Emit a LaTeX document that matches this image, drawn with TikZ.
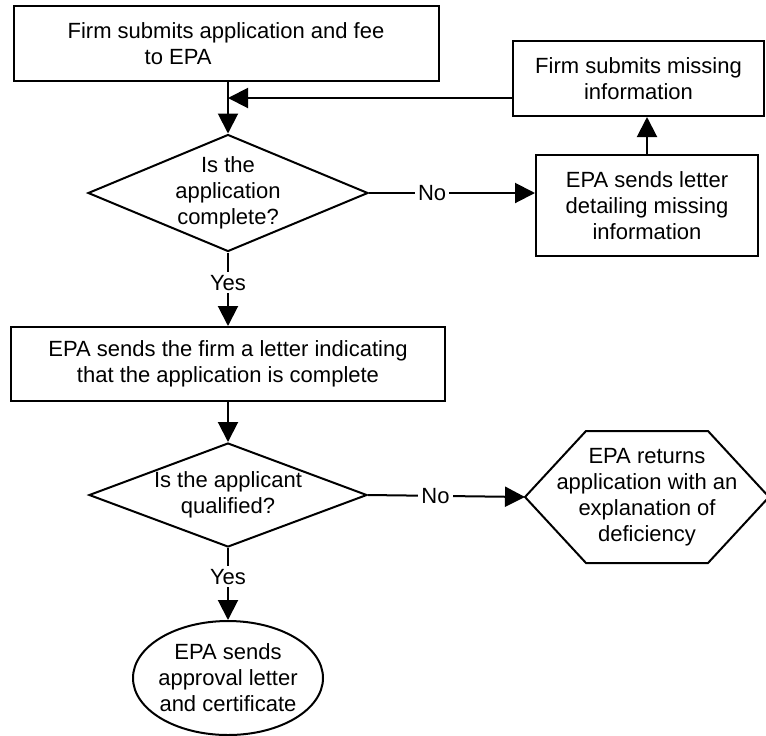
\documentclass[tikz,border=0pt]{standalone}
\usepackage{fontspec}
\setmainfont{Liberation Sans}
\usetikzlibrary{shapes.geometric, arrows.meta}

\begin{document}
\begin{tikzpicture}[
			x=0.5pt, y=-0.5pt, line width=1pt,
			every node/.style={align=center, font=\fontsize{11}{13}\selectfont},
			box/.style={draw, inner sep=0pt},
			decision/.style={draw, shape=diamond, aspect=2.4, inner sep=-6pt},
			hexbox/.style={inner sep=0pt, minimum width=121pt, minimum height=65pt},
			terminal/.style={draw, shape=ellipse, inner sep=-2pt, minimum width=95pt, minimum height=57pt},
			lbl/.style={fill=white, inner sep=1.5pt},
			>={Triangle[length=10pt, width=10pt]}]

		\useasboundingbox (0,0) rectangle (766,735);

		\node[box, minimum width=212.5pt, minimum height=37.5pt, align=left](apply) at (226,43.5) {Firm submits application and fee\\\hspace*{38.5pt}to EPA};
		\node[box, minimum width=125.5pt, minimum height=37.5pt](missing) at (638.5,78.5) {Firm submits missing\\information};
		\node[decision, minimum width=140pt, minimum height=58.5pt](complq) at (228,193) {Is the\\application\\complete?};
		\node[box, minimum width=111pt, minimum height=50.5pt](detail) at (647,205.5) {EPA sends letter\\detailing missing\\information};
		\node[box, minimum width=217pt, minimum height=37pt](complete) at (228,364) {EPA sends the firm a letter indicating\\that the application is complete};
		\node[decision, minimum width=139pt, minimum height=52pt](qualq) at (228,495) {Is the applicant\\qualified?};
		\node[hexbox](returns) at (647,497) {EPA returns\\application with an\\explanation of\\deficiency};
		\node[terminal](approval) at (228,678) {EPA sends\\approval letter\\and certificate};

		% hexagon outline
		\draw (returns.west) -- ([xshift=30.5pt]returns.north west) -- ([xshift=-30.5pt]returns.north east)
			-- (returns.east) -- ([xshift=-30.5pt]returns.south east) -- ([xshift=30.5pt]returns.south west) -- cycle;

		\coordinate (join) at (228,98);

		\draw (apply.south -| join) -- (join);
		\draw[->] (join) -- (complq.north);
		\draw[->] (missing.west |- join) -- (join);
		\draw[->] (complq.east) -- node[lbl, pos=0.38] {No} (complq.east -| detail.west);
		\draw[->] (detail.north) -- (detail.north |- missing.south);
		\draw[->] (complq.south) -- node[lbl, pos=0.41] {Yes} (complete.north);
		\draw[->] (complete.south) -- (qualq.north);
		\draw[->] (qualq.east) -- node[lbl, pos=0.43] {No} (returns.west);
		\draw[->] (qualq.south) -- node[lbl, pos=0.4] {Yes} (approval.north);
	\end{tikzpicture}
\end{document}
